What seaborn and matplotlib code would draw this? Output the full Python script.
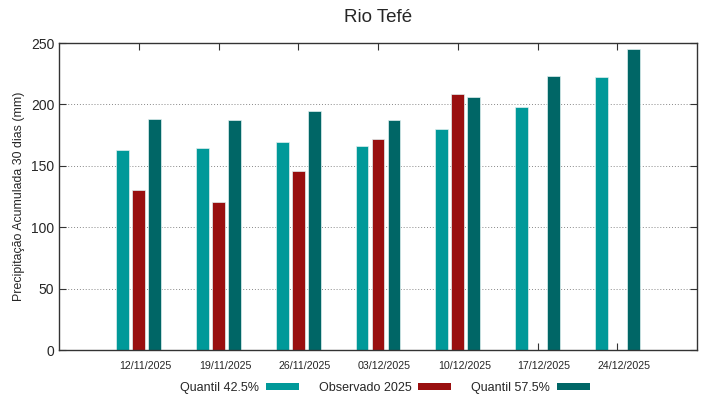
import numpy as np
import pandas as pd
import matplotlib
matplotlib.use("Agg")
import matplotlib.pyplot as plt
import matplotlib.patches as mpatches
import matplotlib.transforms as mtransforms
import seaborn as sns

# ---- data ----
dates = ["12/11/2025", "19/11/2025", "26/11/2025", "03/12/2025",
         "10/12/2025", "17/12/2025", "24/12/2025"]
q425 = [163, 164.5, 169.5, 166.5, 180, 198, 222.5]
obs2025 = [130, 120.5, 146, 172, 208.5, np.nan, np.nan]
q575 = [188.5, 187.5, 194.5, 187.5, 206, 223.5, 245.5]

series_names = ["Quantil 42.5%", "Observado 2025", "Quantil 57.5%"]
colors = ["#009999", "#990f0f", "#006666"]

df = pd.DataFrame({
    "data": dates * 3,
    "serie": np.repeat(series_names, len(dates)),
    "valor": q425 + obs2025 + q575,
})

sns.set_style("white")
plt.rcParams["font.family"] = ["Liberation Sans", "DejaVu Sans"]

fig = plt.figure(figsize=(7.19, 3.99), dpi=100)
ax = fig.add_axes([0.0821, 0.1228, 0.8873, 0.7694])

sns.barplot(data=df, x="data", y="valor", hue="serie", order=dates,
            hue_order=series_names, palette=colors, width=0.6, gap=0.2,
            saturation=1, edgecolor="#e0f0f0", linewidth=0.5,
            errorbar=None, legend=False, ax=ax)

ax.set_xlim(-1, len(dates))
ax.set_ylim(0, 250)
ax.set_yticks([0, 50, 100, 150, 200, 250])
ax.yaxis.grid(True, linestyle=(0, (1, 2)), color="#888888", linewidth=0.7)
ax.set_axisbelow(True)

for s in ax.spines.values():
    s.set_visible(True)
    s.set_color("#333333")
    s.set_linewidth(1.0)

ax.tick_params(axis="x", direction="in", top=True, bottom=True, length=5,
               labelsize=7.7, pad=8, color="#333333")
ax.tick_params(axis="y", direction="in", left=True, right=True, length=5,
               labelsize=10, color="#333333")

# date labels sit a little to the right of their ticks (gnuplot style)
shift = mtransforms.ScaledTranslation(0.065, 0, fig.dpi_scale_trans)
for lbl in ax.get_xticklabels():
    lbl.set_transform(lbl.get_transform() + shift)

ax.set_xlabel("")
ax.set_ylabel("Precipitação Acumulada 30 dias (mm)", fontsize=8.9)
ax.set_title("Rio Tefé", fontsize=13.5, pad=15)

handles = [mpatches.Patch(facecolor=c, edgecolor="none") for c in colors]
fig.legend(handles, series_names, loc="center", bbox_to_anchor=(0.5355, 0.028),
           ncol=3, frameon=False, markerfirst=False, fontsize=9,
           handlelength=2.64, handleheight=0.4, columnspacing=1.6,
           handletextpad=0.56, borderpad=0)

fig.savefig("out.png", dpi=100)
